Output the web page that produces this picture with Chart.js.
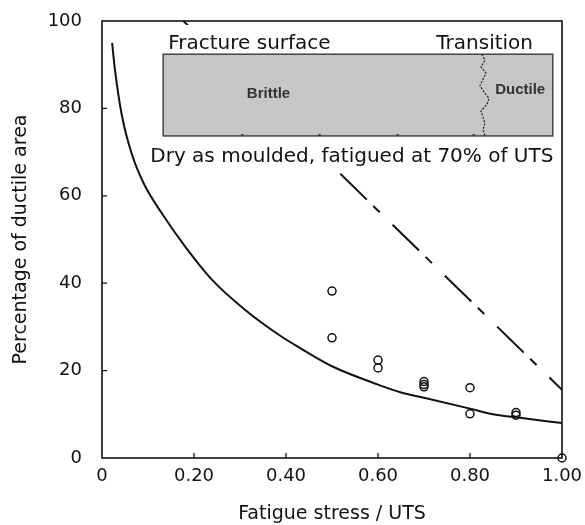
<!DOCTYPE html>
<html lang="en">
<head>
  <meta charset="UTF-8">
  <title>Percentage of ductile area vs fatigue stress</title>
  <script src="https://cdn.jsdelivr.net/npm/chart.js"></script>
  <style>
    body {
      margin: 0;
      background: #fff;
    }
    #wrap {
      width: 585px;
      height: 525px;
    }
  </style>
</head>
<body>
  <div id="wrap"><canvas id="chart"></canvas></div>

  <script>
    // fitted curve (solid)
    const curveX = [0.022, 0.028, 0.043, 0.065, 0.09, 0.13, 0.18, 0.24, 0.31, 0.39, 0.43, 0.5, 0.6, 0.65, 0.7, 0.8, 0.85, 0.9, 1.0];
    const curveY = [95, 89, 78.5, 69.5, 63, 56, 48.5, 40.7, 34, 27.8, 25.2, 21, 16.8, 15, 13.8, 11.3, 10, 9.3, 8];

    // dash-dot line (partly hidden behind the inset)
    const dashX = [0.177, 1.0];
    const dashY = [100, 15.6];

    // measured points (open circles)
    const pointsX = [0.5, 0.5, 0.6, 0.6, 0.7, 0.7, 0.7, 0.8, 0.8, 0.9, 0.9, 1.0];
    const pointsY = [38.2, 27.5, 22.4, 20.6, 17.5, 16.8, 16.3, 16.1, 10.1, 10.4, 9.8, 0];

    // axis ticks
    const xTicks = [0, 0.2, 0.4, 0.6, 0.8, 1.0];
    const yTicks = [0, 20, 40, 60, 80, 100];

    const ink = '#111';
    const toXY = (xs, ys) => xs.map((v, i) => ({ x: v, y: ys[i] }));

    // inset with the fracture surface sketch, drawn over the dash-dot line
    const insetPlugin = {
      id: 'inset',
      afterDatasetsDraw(chart) {
        const { ctx, scales: { x, y } } = chart;
        ctx.save();

        // white panel
        ctx.fillStyle = '#fff';
        ctx.fillRect(x.getPixelForValue(0.1), y.getPixelForValue(99.1),
          x.getPixelForValue(1) - x.getPixelForValue(0.1), y.getPixelForValue(65.4) - y.getPixelForValue(99.1));

        // grey surface
        const gx0 = x.getPixelForValue(0.133), gx1 = x.getPixelForValue(0.98);
        const gy0 = y.getPixelForValue(92.4), gy1 = y.getPixelForValue(73.7);
        ctx.fillStyle = '#c6c6c6';
        ctx.fillRect(gx0, gy0, gx1 - gx0, gy1 - gy0);
        ctx.strokeStyle = '#444';
        ctx.lineWidth = 1.5;
        ctx.strokeRect(gx0, gy0, gx1 - gx0, gy1 - gy0);

        // little marks on the bottom edge
        ctx.fillStyle = '#333';
        [0.305, 0.473, 0.643, 0.808].forEach(v => {
          ctx.fillRect(x.getPixelForValue(v) - 1, gy1 - 2, 2, 2);
        });

        // jagged transition line
        const tx = x.getPixelForValue(0.826);
        const wiggle = [0, 3, -1, 4, 1, -2, 2, 7, 5, -1, 1, 3, 1, 3];
        ctx.beginPath();
        wiggle.forEach((dx, i) => {
          const py = gy0 + (gy1 - gy0) * i / (wiggle.length - 1);
          if (i === 0) ctx.moveTo(tx + dx, py); else ctx.lineTo(tx + dx, py);
        });
        ctx.strokeStyle = '#222';
        ctx.lineWidth = 1.2;
        ctx.setLineDash([2, 1.5]);
        ctx.stroke();
        ctx.setLineDash([]);

        // texts
        ctx.fillStyle = ink;
        ctx.textBaseline = 'alphabetic';
        ctx.font = '20px "DejaVu Sans"';
        ctx.textAlign = 'left';
        ctx.fillText('Fracture surface', x.getPixelForValue(0.144), y.getPixelForValue(93.6));
        ctx.textAlign = 'right';
        ctx.fillText('Transition', x.getPixelForValue(0.937), y.getPixelForValue(93.6));
        ctx.textAlign = 'left';
        ctx.fillText('Dry as moulded, fatigued at 70% of UTS', x.getPixelForValue(0.105), y.getPixelForValue(67.8));

        ctx.fillStyle = '#333';
        ctx.font = 'bold 15px "Liberation Sans"';
        ctx.textAlign = 'center';
        ctx.textBaseline = 'middle';
        ctx.fillText('Brittle', x.getPixelForValue(0.362), y.getPixelForValue(83.3));
        ctx.fillText('Ductile', x.getPixelForValue(0.909), y.getPixelForValue(84.2));
        ctx.restore();
      },
      afterDraw(chart) {
        const { ctx, chartArea: a, scales: { x, y } } = chart;
        ctx.save();
        ctx.strokeStyle = ink;
        ctx.lineWidth = 1.6;
        ctx.strokeRect(a.left, a.top, a.right - a.left, a.bottom - a.top);
        // ticks point inwards
        ctx.lineWidth = 1.3;
        ctx.beginPath();
        xTicks.slice(1, -1).forEach(v => {
          const px = x.getPixelForValue(v);
          ctx.moveTo(px, a.bottom);
          ctx.lineTo(px, a.bottom - 5);
        });
        yTicks.slice(1, -1).forEach(v => {
          const py = y.getPixelForValue(v);
          ctx.moveTo(a.left, py);
          ctx.lineTo(a.left + 5, py);
        });
        ctx.stroke();
        ctx.restore();
      }
    };

    const ctx = document.getElementById('chart').getContext('2d');
    new Chart(ctx, {
      type: 'scatter',
      data: {
        datasets: [
          {
            label: 'Dash-dot line',
            data: toXY(dashX, dashY),
            showLine: true,
            borderColor: ink,
            borderWidth: 2,
            borderDash: [37, 9, 9, 18],
            pointRadius: 0
          },
          {
            label: 'Fit',
            data: toXY(curveX, curveY),
            showLine: true,
            borderColor: ink,
            borderWidth: 2,
            cubicInterpolationMode: 'monotone',
            pointRadius: 0
          },
          {
            label: 'Measured',
            data: toXY(pointsX, pointsY),
            showLine: false,
            pointStyle: 'circle',
            pointRadius: 4,
            pointBorderWidth: 1.5,
            pointBorderColor: ink,
            pointBackgroundColor: 'rgba(0,0,0,0)',
            clip: false
          }
        ]
      },
      options: {
        responsive: true,
        maintainAspectRatio: false,
        animation: false,
        layout: { padding: { top: 21, right: 23, left: 0, bottom: 0 } },
        plugins: {
          legend: { display: false },
          tooltip: { enabled: false }
        },
        scales: {
          x: {
            type: 'linear',
            min: 0,
            max: 1,
            afterFit: s => { s.height = 67; s.paddingLeft = 0; s.paddingRight = 0; },
            afterBuildTicks: s => { s.ticks = xTicks.map(v => ({ value: v })); },
            grid: { display: false, drawTicks: false },
            border: { display: false },
            ticks: {
              padding: 8,
              color: ink,
              font: { family: 'DejaVu Sans', size: 18 },
              callback: v => v === 0 ? '0' : v.toFixed(2)
            },
            title: {
              display: true,
              text: 'Fatigue stress / UTS',
              color: ink,
              font: { family: 'DejaVu Sans', size: 19 },
              padding: { top: 0, bottom: 0 }
            }
          },
          y: {
            type: 'linear',
            min: 0,
            max: 100,
            afterFit: s => { s.width = 102; s.paddingTop = 0; s.paddingBottom = 0; },
            afterBuildTicks: s => { s.ticks = yTicks.map(v => ({ value: v })); },
            grid: { display: false, drawTicks: false },
            border: { display: false },
            ticks: {
              padding: 20,
              color: ink,
              font: { family: 'DejaVu Sans', size: 18 }
            },
            title: {
              display: true,
              text: 'Percentage of ductile area',
              color: ink,
              font: { family: 'DejaVu Sans', size: 19 },
              padding: { top: 10, bottom: 0 }
            }
          }
        }
      },
      plugins: [insetPlugin]
    });
  </script>
</body>
</html>
